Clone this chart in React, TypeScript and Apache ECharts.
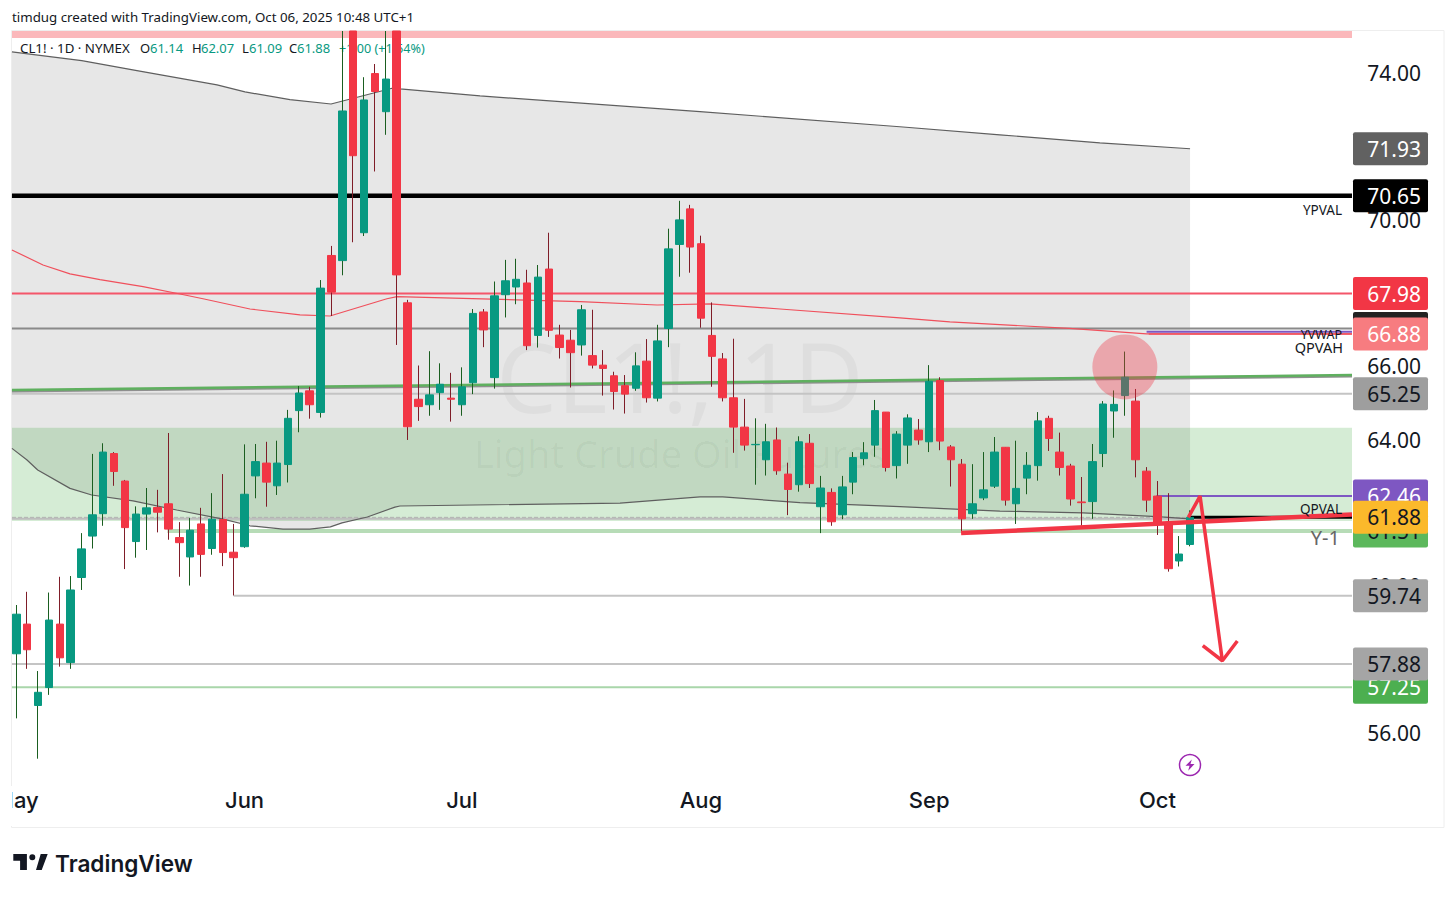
import React, { useEffect, useRef } from "react";
import * as echarts from "echarts";

const opens = [58.16,58.97,56.75,57.24,58.97,57.92,60.24,61.37,61.98,63.62,62.87,61.22,61.97,62.15,62.25,61.33,60.80,61.70,61.03,61.82,60.93,61.08,63.01,63.36,62.74,63.32,64.79,65.33,64.74,69.02,68.88,75.14,69.64,73.98,72.94,75.14,67.73,65.10,64.95,65.28,65.13,64.95,65.55,67.48,65.69,67.95,68.16,68.27,66.84,68.65,66.85,66.71,66.58,66.29,66.03,65.74,65.47,65.40,66.14,65.13,67.03,69.32,70.29,69.34,66.84,66.20,65.14,64.34,63.86,63.45,63.99,63.06,62.77,63.90,62.17,62.56,61.95,62.84,63.48,63.85,64.75,63.29,63.85,64.26,63.94,65.61,63.80,63.33,61.98,62.41,62.73,63.79,62.25,62.95,63.29,64.58,63.66,63.28,62.30,62.31,63.62,64.78,65.20,65.05,63.14,62.46,61.72,60.69,61.14];
const highs = [59.49,59.85,57.69,59.83,60.26,60.28,61.45,63.61,63.90,63.66,62.90,62.18,62.68,62.63,64.18,61.75,61.86,62.14,62.54,63.06,61.70,63.87,63.88,63.94,63.97,64.81,65.46,65.44,68.35,69.28,75.14,75.14,73.88,74.24,75.14,75.14,67.81,66.02,66.41,66.08,65.82,65.97,67.56,67.56,68.31,68.90,68.93,68.63,68.76,69.64,67.13,66.99,67.67,67.54,66.44,65.85,65.76,66.38,66.74,67.13,69.75,70.51,70.40,69.56,67.74,66.36,66.75,65.11,64.58,64.43,64.33,63.37,64.09,64.15,63.01,62.67,63.01,63.66,63.93,65.08,64.75,64.23,64.69,64.56,66.03,65.70,63.85,63.47,63.33,63.66,64.07,63.79,63.97,63.66,64.75,64.65,64.19,63.34,62.98,63.88,65.05,65.34,66.40,65.38,63.25,62.87,62.54,61.37,62.07];
const lows = [56.40,57.75,55.30,57.04,57.81,57.75,59.90,61.03,61.65,62.74,60.47,60.78,60.99,61.47,61.27,60.26,60.02,60.26,60.86,60.55,59.75,61.05,62.40,62.17,62.49,62.83,64.20,64.57,64.60,67.37,68.48,69.38,69.55,71.31,72.31,66.58,63.99,64.51,64.65,64.81,64.49,64.65,65.24,66.52,65.39,67.33,67.69,66.44,66.51,66.80,66.21,65.42,66.29,65.94,65.20,64.82,64.71,65.33,65.01,65.04,66.52,68.44,68.55,67.05,65.44,65.04,63.64,63.70,62.77,63.02,63.04,61.94,62.58,62.68,61.45,61.65,61.83,62.51,63.30,63.53,63.13,62.94,63.34,63.86,63.66,63.71,62.72,61.45,61.84,62.35,62.68,62.20,61.70,62.51,62.88,63.69,63.02,62.20,61.65,61.84,63.25,64.05,64.65,62.97,62.03,61.40,60.40,60.54,61.09];
const closes = [59.24,58.27,57.11,59.08,58.05,59.90,61.02,61.95,63.66,63.13,61.60,61.97,62.14,62.02,61.56,61.19,61.53,60.87,61.83,60.92,60.78,62.51,63.40,62.84,63.36,64.58,65.27,64.95,68.13,68.02,72.96,71.74,73.26,73.49,73.83,68.49,64.35,64.90,65.22,65.51,65.10,65.44,67.44,66.99,67.92,68.33,68.37,66.56,68.43,66.98,66.51,66.37,67.54,66.03,65.94,65.31,65.24,66.01,65.14,66.69,69.20,69.99,69.25,67.31,66.27,65.14,64.34,63.85,63.87,63.94,63.15,62.64,63.94,62.80,62.68,61.76,62.71,63.51,63.64,64.79,63.24,64.15,64.59,63.99,65.59,63.96,63.45,61.84,62.25,62.63,63.66,62.35,62.67,63.30,64.51,64.03,63.24,62.38,62.28,63.40,64.97,64.96,65.70,63.45,62.35,61.73,60.48,60.88,61.88];

const upperCurve = [[-0.4,74.57],[6.02,74.33],[11.1,74.06],[18.47,73.67],[21.04,73.48],[25.18,73.27],[28.96,73.15],[34.57,73.58],[35.3,73.56],[42.67,73.37],[62.91,72.94],[81.3,72.53],[90.5,72.31],[99.7,72.09],[108,71.93]];
const lowerCurve = [[-0.4,63.76],[0.96,63.45],[1.97,63.17],[4.94,62.67],[6.94,62.49],[10.74,62.33],[14.76,62.08],[19.02,61.83],[21.5,61.65],[24.54,61.56],[27,61.56],[28.9,61.62],[29.97,61.73],[32.3,61.89],[34.84,62.16],[35.3,62.19],[55.55,62.27],[62.91,62.44],[65,62.44],[72.1,62.28],[81.3,62.17],[90.5,62.05],[98.15,62.00],[104.96,61.90],[108,61.84]];
const redCurve = [[-0.4,69.17],[2.46,68.76],[4.94,68.52],[7.7,68.36],[11.66,68.17],[15.06,67.97],[17.18,67.84],[21.5,67.56],[26.1,67.40],[28.86,67.37],[34.1,67.84],[35.03,67.90],[51.87,67.76],[58.96,67.67],[63.83,67.70],[70.27,67.56],[81.3,67.32],[85.9,67.21],[96.9,67.03],[104,66.88],[122.9,66.88]];
const greenTrend = [[-0.4,65.35],[122.9,65.76]];
const grayTrend = [[-0.4,65.31],[122.9,65.72]];
const redTrend = [[86.93,61.45],[122.9,61.96]];
const arrowShaft = [[107.84,61.88],[108.92,62.46],[110.97,57.97]];
const arrowHead = [[109.17,58.38],[110.97,57.97],[112.35,58.51]];
const circleMark = [[102,65.98]];

const levelValues = [70.65,67.98,67.03,65.25,62.46,61.51,61.84,61.88,59.74,57.88,57.25,66.94,66.88];
const levelStarts = [-0.4,-0.4,-0.4,-0.4,104.9,13.9,-0.4,107.8,20,-0.4,-0.4,104,104.2];
const levelEnds = [122.9,122.9,122.9,122.9,122.9,122.9,108,122.9,122.9,122.9,122.9,122.9,122.9];
const levelColors = ["#000000","#f4566a","#8a8a8a","#c4c4c4","#7e57c2","#b7dcb7","#bdbdbd","#000000","#c4c4c4","#c4c4c4","#a9d6aa","#7e57c2","#f7777f"];
const levelWidths = [4.5,2,2,2,2,4,2,3,2,2,2,2,2];

const tagValues = [71.93,70.65,67.03,66.88,67.98,65.25,61.51,62.46,61.88,59.74,57.25,57.88];
const tagFills = ["#616161","#000000","#222222","#f77c80","#f23645","#9e9e9e","#5cb85c","#7e57c2","#fbb92b","#a5a5a5","#4caf50","#a5a5a5"];
const tagInks = ["#ffffff","#ffffff","#ffffff","#ffffff","#ffffff","#131722","#131722","#ffffff","#131722","#131722","#ffffff","#131722"];

const yTicks = [56,58,60,62,64,66,68,70,72,74];
const monthTicks = [0,21,41,63,84,105];
const monthNames = ["May","Jun","Jul","Aug","Sep","Oct"];
const greenZone = [64.32,61.78];
const pinkZone = [75.14,74.95];

const X_MIN = -0.396, X_MAX = 122.9;
const UP = "#089981", DOWN = "#f23645";
const UI_FONT = "'Noto Sans', sans-serif";

const logoPath = "M0 0H13.6V16H6.8V6.8H0Z M22.7 16L27.4 0H34.4L28.4 16Z M16 3.3a3 3 0 1 0 6 0a3 3 0 1 0-6 0Z";
const boltPath = "M7 0L0 9H4.5L3 16L10 6.5H5.5Z";
echarts.graphic.registerShape("tvlogo", echarts.graphic.extendPath(logoPath, {}));
echarts.graphic.registerShape("tvbolt", echarts.graphic.extendPath(boltPath, {}));

const lineSeries = (data: number[][], color: string, width: number, z: number, type: string = "solid") => ({
  type: "line", data, z, symbol: "none", silent: true, animation: false, smooth: false,
  lineStyle: { color, width, type },
});

const legendParts: [string, number, string, number][] = [
  ["CL1! · 1D · NYMEX", 20, "#131722", 13.3],
  ["O", 140, "#131722", 13], ["61.14", 150, UP, 13],
  ["H", 192, "#131722", 13], ["62.07", 201, UP, 13],
  ["L", 242, "#131722", 13], ["61.09", 249, UP, 13],
  ["C", 289, "#131722", 13], ["61.88", 297, UP, 13],
  ["+1.00 (+1.64%)", 339, UP, 12.6],
];
const noteTexts: [string, number, number, number, string][] = [
  ["YPVAL", 1342, 210, 13.5, "#131722"],
  ["YVWAP", 1342, 334, 12.5, "#131722"],
  ["QPVAH", 1343, 347, 14.5, "#131722"],
  ["QPVAL", 1342, 509, 13.5, "#131722"],
  ["Y-1", 1340, 537, 20, "#666666"],
];

export default function App() {
  const ref = useRef<HTMLDivElement>(null);
  useEffect(() => {
    document.body.style.margin = "0";
    const chart = echarts.init(ref.current!, null, { renderer: "svg" });
    const idx = opens.map((_, i) => i);
    const wickData = idx.map((i) => [i, opens[i], closes[i], lows[i], highs[i]]);
    const bodyData = idx.map((i) => [i, opens[i], closes[i], Math.min(opens[i], closes[i]), Math.max(opens[i], closes[i])]);
    const levelSeries = levelValues.map((v, i) =>
      lineSeries([[levelStarts[i], v], [levelEnds[i], v]], levelColors[i], levelWidths[i], 2));

    chart.setOption({
      animation: false,
      backgroundColor: "#ffffff",
      grid: { left: 12, top: 31, width: 1340, height: 753, containLabel: false, outerBoundsMode: "none" },
      xAxis: {
        type: "value", min: X_MIN, max: X_MAX, splitLine: { show: false },
        axisLine: { show: false }, axisTick: { show: false },
        axisLabel: {
          customValues: monthTicks, margin: 5, fontFamily: "Inter, sans-serif", fontSize: 22, fontWeight: 500,
          color: "#131722", hideOverlap: false, showMinLabel: true, showMaxLabel: true,
          formatter: (v: number) => monthNames[monthTicks.indexOf(v)] ?? "",
        },
      },
      yAxis: {
        type: "value", position: "right", min: 54.61, max: 75.14, scale: true, splitLine: { show: false },
        axisLine: { show: false }, axisTick: { show: false },
        axisLabel: {
          customValues: yTicks, margin: 69, align: "right", fontFamily: UI_FONT, fontSize: 21, color: "#131722",
          formatter: (v: number) => v.toFixed(2),
        },
      },
      graphic: [
        { type: "rect", z: 0, silent: true, shape: { x: 11.5, y: 30.5, width: 1432.5, height: 797 }, style: { fill: "none", stroke: "#eeeeee", lineWidth: 1 } },
        { type: "text", z: 1, silent: true, x: 680, y: 375, style: { text: "CL1!, 1D", font: `96px ${UI_FONT}`, fill: "rgba(0,0,0,0.035)", align: "center", verticalAlign: "middle" } },
        { type: "text", z: 1, silent: true, x: 680, y: 453, style: { text: "Light Crude Oil Futures", font: `38px ${UI_FONT}`, fill: "rgba(0,0,0,0.035)", align: "center", verticalAlign: "middle" } },
        { type: "text", z: 60, silent: true, x: 12, y: 17, style: { text: "timdug created with TradingView.com, Oct 06, 2025 10:48 UTC+1", font: `13.3px ${UI_FONT}`, fill: "#131722", verticalAlign: "middle" } },
        ...legendParts.map(([text, x, fill, size]) => ({ type: "text", z: 3, silent: true, x, y: 48, style: { text, font: `${size}px ${UI_FONT}`, fill, verticalAlign: "middle" } })),
        ...noteTexts.map(([text, x, y, size, fill]) => ({ type: "text", z: 60, silent: true, x, y, style: { text, font: `${size}px ${UI_FONT}`, fill, align: "right", verticalAlign: "middle" } })),
        { type: "rect", z: 60, silent: true, shape: { x: 0, y: 786, width: 12, height: 40 }, style: { fill: "#ffffff" } },
        { type: "circle", z: 60, silent: true, shape: { cx: 1190, cy: 765, r: 10.5 }, style: { fill: "#ffffff", stroke: "#9c27b0", lineWidth: 1.5 } },
        { type: "tvbolt", z: 61, silent: true, x: 1185.5, y: 759.5, scaleX: 0.9, scaleY: 0.7, style: { fill: "#9c27b0" } },
        { type: "tvlogo", z: 60, silent: true, x: 13.3, y: 854, style: { fill: "#131722" } },
        { type: "text", z: 60, silent: true, x: 55, y: 863, style: { text: "TradingView", font: `600 22.6px Inter, sans-serif`, fill: "#131722", verticalAlign: "middle" } },
      ],
      series: [
        {
          type: "custom", z: 0, silent: true, data: [[0, 0]],
          renderItem: (_: any, api: any) => {
            const up = upperCurve.map((p) => api.coord(p));
            const lo = lowerCurve.map((p) => api.coord(p)).reverse();
            const zone = [[X_MIN, greenZone[0]], [X_MAX, greenZone[0]], [X_MAX, greenZone[1]], [X_MIN, greenZone[1]]].map((p) => api.coord(p));
            const pink = [[X_MIN, pinkZone[0]], [X_MAX, pinkZone[0]], [X_MAX, pinkZone[1]], [X_MIN, pinkZone[1]]].map((p) => api.coord(p));
            return {
              type: "group",
              children: [
                { type: "polygon", shape: { points: [...up, ...lo] }, style: { fill: "rgba(0,0,0,0.095)" } },
                { type: "polygon", shape: { points: zone }, style: { fill: "rgba(45,160,45,0.2)" } },
                { type: "polygon", shape: { points: pink }, style: { fill: "#fbb8bb" } },
              ],
            };
          },
        },
        ...levelSeries,
        lineSeries(lowerCurve.map((p) => [p[0], p[1]]), "#5f5f5f", 1.2, 3),
        lineSeries(upperCurve, "#5f5f5f", 1.2, 3),
        lineSeries(redCurve, "#f0505c", 1.2, 3),
        lineSeries([[X_MIN, 61.88], [108, 61.88]], "#b0b0b0", 1, 2, "dashed"),
        lineSeries(grayTrend, "#8f8f8f", 2, 3),
        lineSeries(greenTrend, "#5fb05f", 2.5, 3),
        {
          type: "candlestick", z: 5, silent: true, barWidth: 1, data: wickData,
          itemStyle: { color: "#1a5e20", color0: "#7f1d28", borderColor: "#1a5e20", borderColor0: "#7f1d28", borderWidth: 1 },
        },
        {
          type: "candlestick", z: 6, silent: true, barWidth: 8, data: bodyData,
          itemStyle: { color: UP, color0: DOWN, borderColor: UP, borderColor0: DOWN, borderWidth: 1 },
        },
        lineSeries(redTrend, DOWN, 4.5, 8),
        lineSeries(arrowShaft, DOWN, 3.5, 8),
        lineSeries(arrowHead, DOWN, 3.5, 8),
        {
          type: "scatter", z: 9, silent: true, data: circleMark, symbol: "circle", symbolSize: 65,
          itemStyle: { color: "rgba(242,54,69,0.45)" },
        },
        {
          type: "custom", z: 20, silent: true, clip: false,
          data: tagValues.map((v, i) => [X_MAX, v, i]),
          renderItem: (_: any, api: any) => {
            const i = api.value(2);
            const p = api.coord([X_MAX, api.value(1)]);
            return {
              type: "group",
              children: [
                { type: "rect", shape: { x: p[0] + 1, y: p[1] - 16.5, width: 75, height: 33, r: 2 }, style: { fill: tagFills[i] } },
                { type: "text", x: p[0] + 69, y: p[1], style: { text: api.value(1).toFixed(2), fill: tagInks[i], font: `21px ${UI_FONT}`, align: "right", verticalAlign: "middle" } },
              ],
            };
          },
        },
      ],
    });
    return () => chart.dispose();
  }, []);
  return <div ref={ref} style={{ position: "absolute", left: 0, top: 0, width: 1456, height: 897 }} />;
}
